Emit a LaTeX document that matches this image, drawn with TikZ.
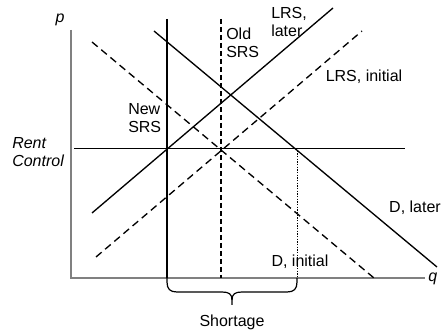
\documentclass[tikz,border=0pt]{standalone}
\usepackage{fontspec}
\setmainfont{Liberation Sans}
\usetikzlibrary{positioning}
\tikzset{
  curve/.style={line width=1pt}, % supply and demand lines
  dcurve/.style={curve, dash pattern=on 5.5pt off 3.5pt}, % dashed ones
  axis/.style={line width=1.1pt, draw=gray},
  lbl/.style={font=\fontsize{12}{13.5}\selectfont, inner sep=0pt, align=left},
  ilbl/.style={lbl, font=\fontsize{12}{13.5}\selectfont\itshape},
}

\begin{document}
\begin{tikzpicture}[x=0.75pt, y=-0.75pt]
  \useasboundingbox (0,0) rectangle (444,335);

  % axes
  \coordinate (o) at (71,278);
  \coordinate (ptop) at (71,30);
  \coordinate (qend) at (425,278);
  \draw[axis] (ptop) -- (o) -- (qend);
  \node[ilbl] (p) at (60,20) {p};
  \node[ilbl, anchor=west] (q) at (428,279) {q};

  % rent control
  \coordinate (rc) at (74,148);
  \coordinate (rcend) at (405,148);
  \draw[line width=0.6pt] (rc) -- (rcend);
  \node[ilbl, anchor=west] (rent) at (12,152) {Rent\\Control};

  % short run supply
  \coordinate (shortL) at (167,278);
  \coordinate (shortR) at (297,278);
  \draw[curve] (167,19) -- (shortL);
  \draw[curve, dash pattern=on 4pt off 2pt] (221,19) -- (221,278);
  \node[lbl, anchor=west] (newsrs) at (128,118) {New\\SRS};
  \node[lbl, anchor=west] (oldsrs) at (226,43) {Old\\SRS};

  % long run supply
  \draw[curve] (92,213) -- (333,8);
  \draw[dcurve] (96,257) -- (362,31);
  \node[lbl, anchor=west] (lrslater) at (271,22) {LRS,\\later};
  \node[lbl] (lrsinit) at (364,77) {LRS, initial};

  % demand
  \draw[curve] (154,31) -- (437,267);
  \draw[dcurve] (92,42) -- (374,278);
  \node[lbl] (dlater) at (415,208) {D, later};
  \node[lbl] (dinit) at (300,262) {D, initial};

  % shortage
  \draw[line width=0.6pt, dash pattern=on 1pt off 1pt] (297,148) -- (shortR);
  \draw[line width=0.9pt] (shortL) -- (167,282) .. controls (167,289) and (170,292) .. (177,292)
    -- (222,292) .. controls (229,292) and (232,294) .. (232,300) -- (232,305);
  \draw[line width=0.9pt] (shortR) -- (297,282) .. controls (297,289) and (294,292) .. (287,292)
    -- (242,292) .. controls (235,292) and (232,294) .. (232,300);
  \node[lbl] (short) at (232,322) {Shortage};
\end{tikzpicture}
\end{document}
